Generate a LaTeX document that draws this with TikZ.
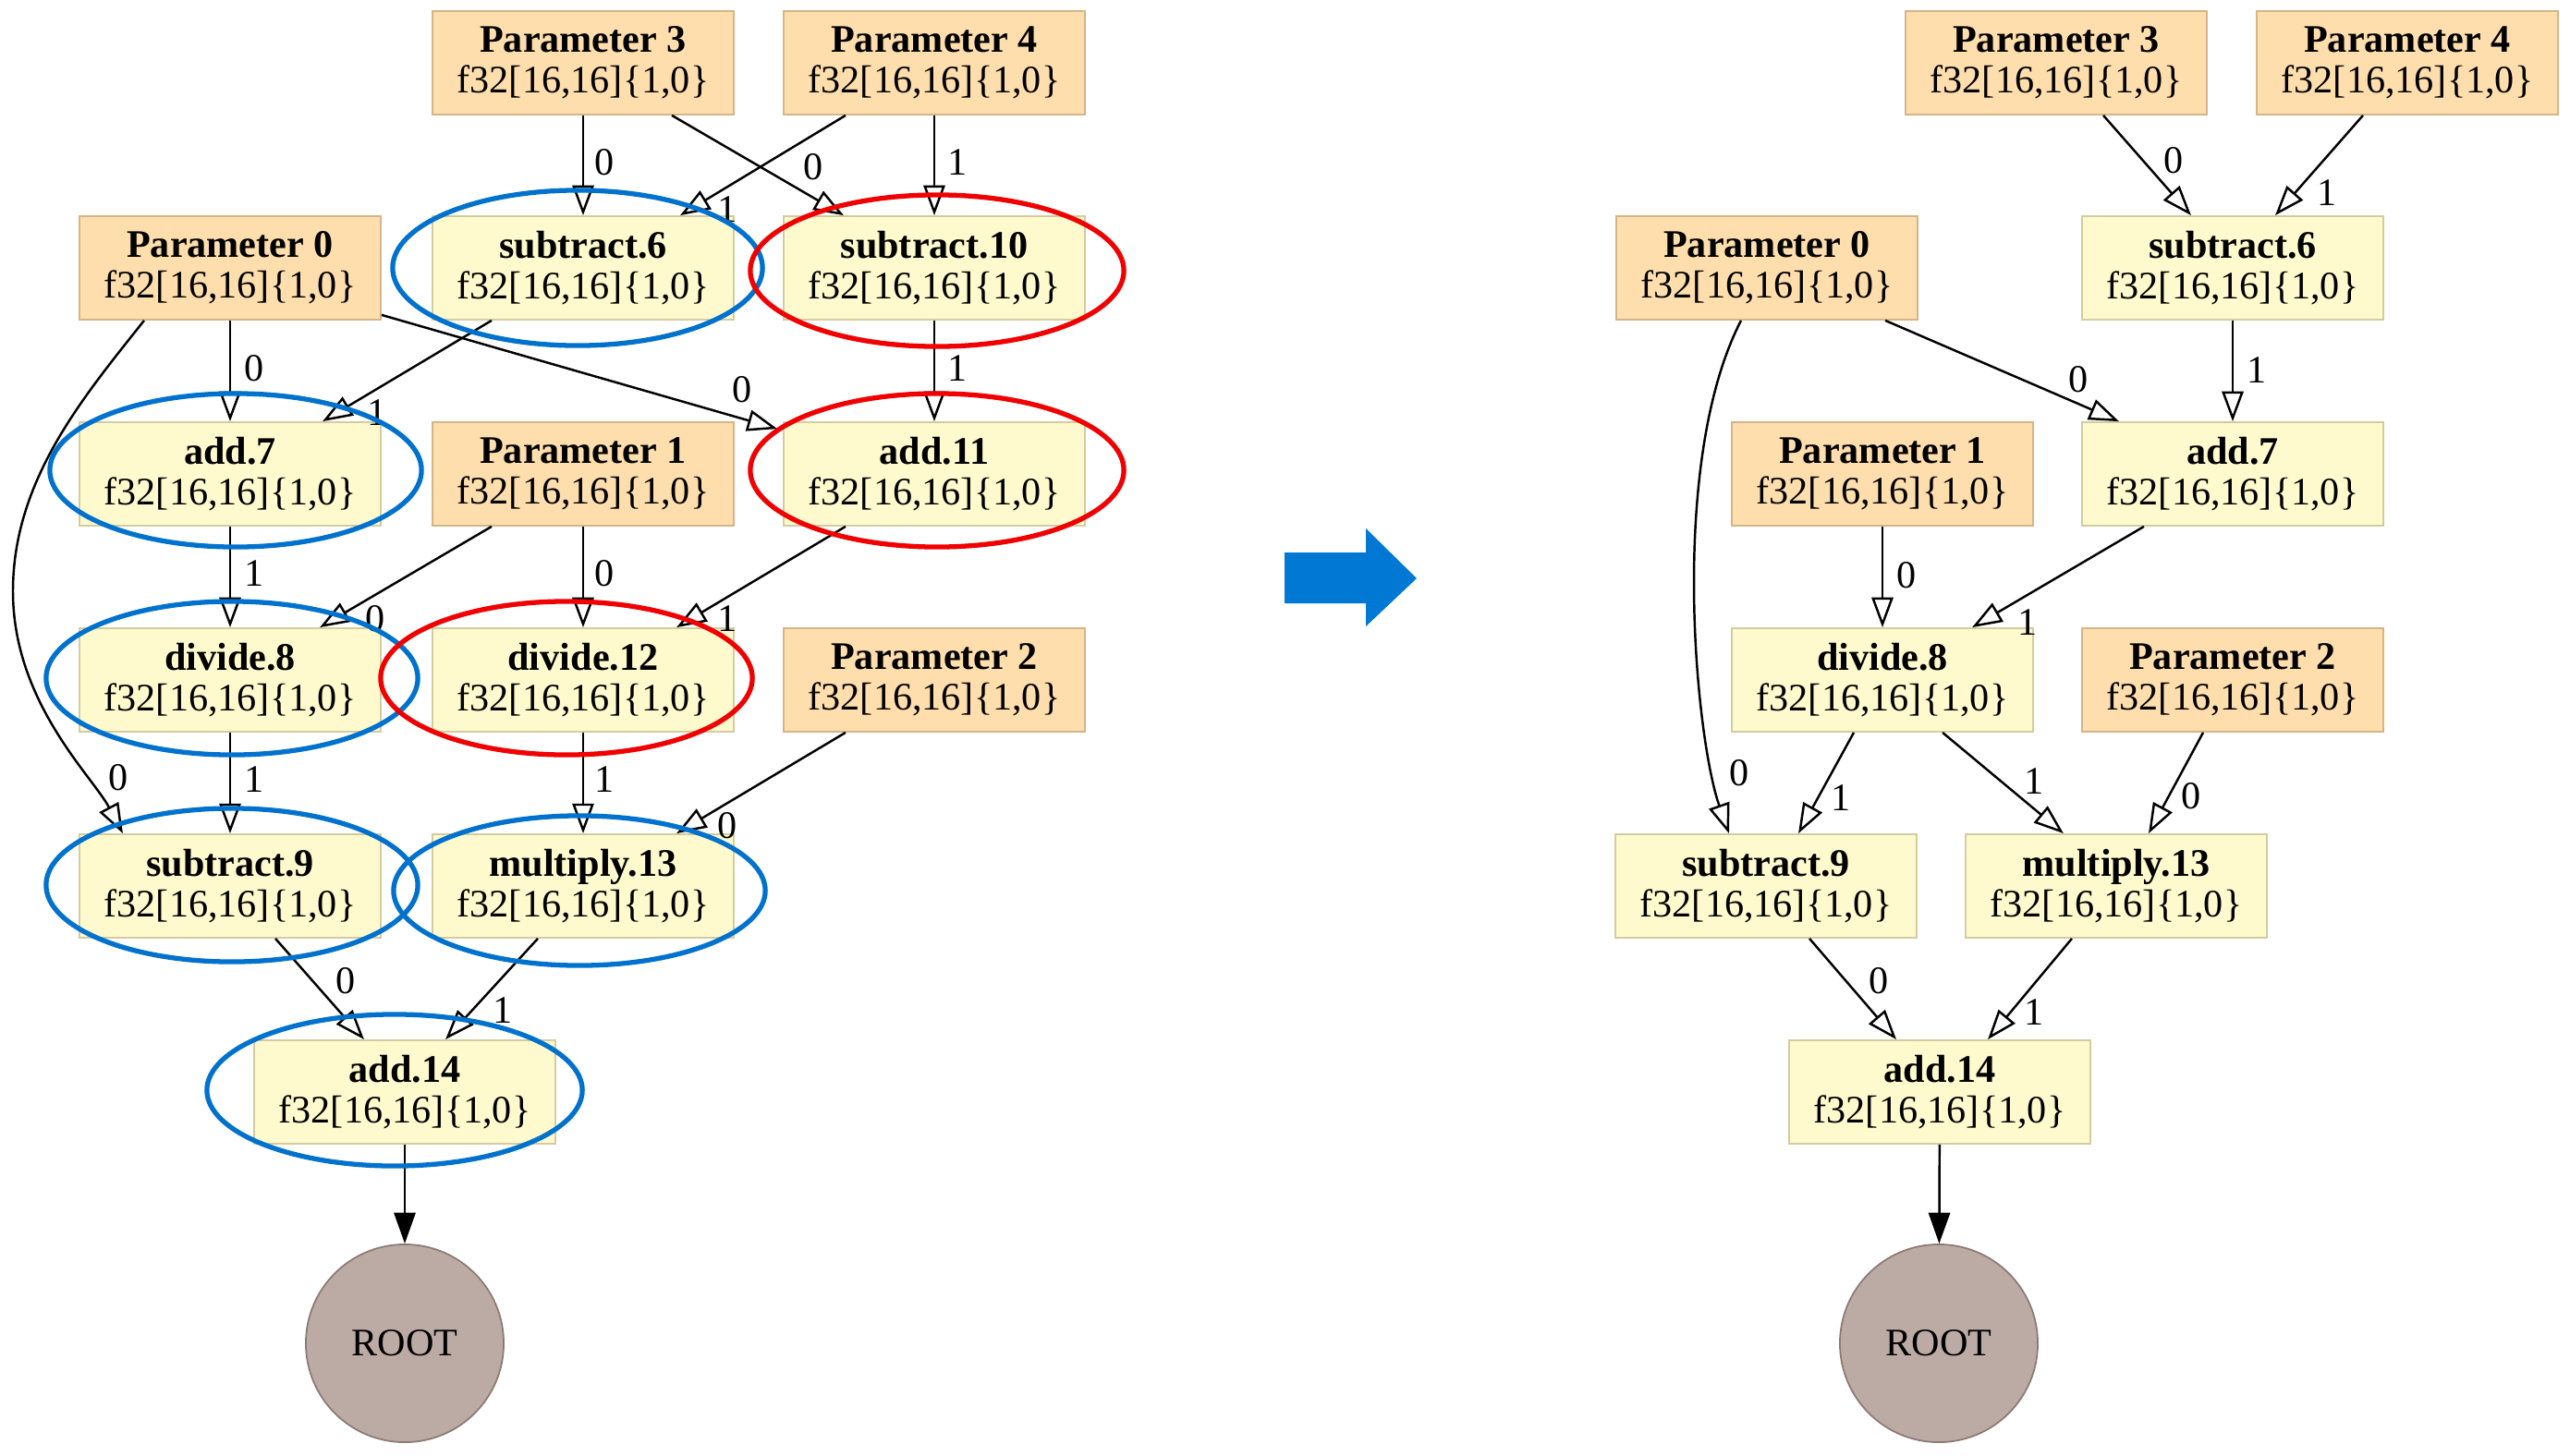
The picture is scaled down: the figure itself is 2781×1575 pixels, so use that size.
\documentclass[tikz,border=0pt]{standalone}
\usepackage{fontspec}
\setmainfont{Liberation Serif}
\usetikzlibrary{arrows.meta}
\definecolor{parfill}{RGB}{255,222,173}
\definecolor{parline}{RGB}{214,180,136}
\definecolor{opfill}{RGB}{255,250,205}
\definecolor{opline}{RGB}{210,204,160}
\definecolor{rootfill}{RGB}{188,170,164}
\definecolor{rootline}{RGB}{140,123,117}
\definecolor{hlblue}{RGB}{0,114,206}
\definecolor{hlred}{RGB}{240,0,0}
\definecolor{arrowblue}{RGB}{0,120,212}
\begin{document}
\begin{tikzpicture}[x=0.01cm,y=-0.01cm,
  base/.style={rectangle, draw, line width=0.5pt, minimum width=3.26cm, minimum height=1.12cm,
    inner sep=1pt, align=center, font=\fontsize{12}{12.5}\selectfont},
  par/.style={base, fill=parfill, draw=parline},
  op/.style={base, fill=opfill, draw=opline},
  rootnode/.style={circle, fill=rootfill, draw=rootline, line width=0.5pt, minimum size=2.14cm,
    inner sep=0pt, font=\fontsize{12}{12.5}\selectfont},
  edge/.style={line width=0.7pt, -{Triangle[open, length=9.2pt, width=6.6pt]}},
  rootedge/.style={line width=0.7pt, -{Triangle[length=9.5pt, width=6.6pt]}},
  lbl/.style={inner sep=0pt, font=\fontsize{12}{12.5}\selectfont},
  hlb/.style={draw=hlblue, line width=1.5pt},
  hlr/.style={draw=hlred, line width=1.5pt}
]
\useasboundingbox (0,0) rectangle (2781,1575);

% ---------------- left graph ----------------
\node[par] (P3L) at (631,68) {\textbf{Parameter 3}\\f32[16,16]\{1,0\}};
\node[par] (P4L) at (1011,68) {\textbf{Parameter 4}\\f32[16,16]\{1,0\}};
\node[par] (P0L) at (249,290) {\textbf{Parameter 0}\\f32[16,16]\{1,0\}};
\node[op] (s6L) at (631,290) {\textbf{subtract.6}\\f32[16,16]\{1,0\}};
\node[op] (s10L) at (1011,290) {\textbf{subtract.10}\\f32[16,16]\{1,0\}};
\node[op] (a7L) at (249,513) {\textbf{add.7}\\f32[16,16]\{1,0\}};
\node[par] (P1L) at (631,513) {\textbf{Parameter 1}\\f32[16,16]\{1,0\}};
\node[op] (a11L) at (1011,513) {\textbf{add.11}\\f32[16,16]\{1,0\}};
\node[op] (d8L) at (249,736) {\textbf{divide.8}\\f32[16,16]\{1,0\}};
\node[op] (d12L) at (631,736) {\textbf{divide.12}\\f32[16,16]\{1,0\}};
\node[par] (P2L) at (1011,736) {\textbf{Parameter 2}\\f32[16,16]\{1,0\}};
\node[op] (s9L) at (249,959) {\textbf{subtract.9}\\f32[16,16]\{1,0\}};
\node[op] (m13L) at (631,959) {\textbf{multiply.13}\\f32[16,16]\{1,0\}};
\node[op] (a14L) at (438,1182) {\textbf{add.14}\\f32[16,16]\{1,0\}};
\node[rootnode] (rootL) at (438,1454) {ROOT};

\draw[edge] (P3L) -- (s6L);
\draw[edge] ([xshift=0.96cm]P3L.south) -- ([xshift=-0.98cm]s10L.north);
\draw[edge] ([xshift=-0.96cm]P4L.south) -- ([xshift=1.05cm]s6L.north);
\draw[edge] (P4L) -- (s10L);
\draw[edge] (P0L) -- (a7L);
\draw[edge] ([xshift=-0.99cm]s6L.south) -- ([xshift=1.0cm]a7L.north);
\draw[edge] ([yshift=0.06cm]P0L.south east) -- ([shift={(-0.06cm,-0.08cm)}]a11L.north west);
\draw[edge] (s10L) -- (a11L);
\draw[edge] ([xshift=-0.93cm]P0L.south) .. controls (90,430) and (14,520) .. (14,640)
  .. controls (14,760) and (100,840) .. ([xshift=-1.16cm]s9L.north);
\draw[edge] (a7L) -- (d8L);
\draw[edge] ([xshift=-0.99cm]P1L.south) -- ([xshift=0.97cm]d8L.north);
\draw[edge] (P1L) -- (d12L);
\draw[edge] ([xshift=-0.96cm]a11L.south) -- ([xshift=1.01cm]d12L.north);
\draw[edge] (d8L) -- (s9L);
\draw[edge] (d12L) -- (m13L);
\draw[edge] ([xshift=-0.96cm]P2L.south) -- ([xshift=1.01cm]m13L.north);
\draw[edge] ([xshift=0.49cm]s9L.south) -- ([xshift=-0.44cm]a14L.north);
\draw[edge] ([xshift=-0.49cm]m13L.south) -- ([xshift=0.44cm]a14L.north);
\draw[rootedge] (a14L) -- (rootL);

\node[lbl] (lL1) at (654,176) {0};
\node[lbl] (lL2) at (880,181) {0};
\node[lbl] (lL3) at (787,227) {1};
\node[lbl] (lL4) at (1036,176) {1};
\node[lbl] (lL5) at (275,399) {0};
\node[lbl] (lL6) at (408,447) {1};
\node[lbl] (lL7) at (803,422) {0};
\node[lbl] (lL8) at (1036,399) {1};
\node[lbl] (lL9) at (128,842) {0};
\node[lbl] (lL10) at (275,621) {1};
\node[lbl] (lL11) at (406,670) {0};
\node[lbl] (lL12) at (654,621) {0};
\node[lbl] (lL13) at (787,670) {1};
\node[lbl] (lL14) at (275,844) {1};
\node[lbl] (lL15) at (654,844) {1};
\node[lbl] (lL16) at (787,894) {0};
\node[lbl] (lL17) at (374,1062) {0};
\node[lbl] (lL18) at (544,1094) {1};

% highlight ellipses
\draw[hlb] (625,290) ellipse [x radius=2.0cm, y radius=0.84cm];
\draw[hlr] (1014,293) ellipse [x radius=2.02cm, y radius=0.82cm];
\draw[hlb] (255,509) ellipse [x radius=2.01cm, y radius=0.83cm];
\draw[hlr] (1014,509) ellipse [x radius=2.02cm, y radius=0.83cm];
\draw[hlb] (251,734) ellipse [x radius=2.01cm, y radius=0.83cm];
\draw[hlr] (613,734) ellipse [x radius=2.01cm, y radius=0.83cm];
\draw[hlb] (251,958) ellipse [x radius=2.01cm, y radius=0.83cm];
\draw[hlb] (627,964) ellipse [x radius=2.01cm, y radius=0.81cm];
\draw[hlb] (427,1180) ellipse [x radius=2.03cm, y radius=0.82cm];

% ---------------- arrow ----------------
\fill[arrowblue] (1390,598) -- (1478,598) -- (1478,572) -- (1533,626) -- (1478,678)
  -- (1478,653) -- (1390,653) -- cycle;

% ---------------- right graph ----------------
\node[par] (P3R) at (2225,68) {\textbf{Parameter 3}\\f32[16,16]\{1,0\}};
\node[par] (P4R) at (2605,68) {\textbf{Parameter 4}\\f32[16,16]\{1,0\}};
\node[par] (P0R) at (1912,290) {\textbf{Parameter 0}\\f32[16,16]\{1,0\}};
\node[op] (s6R) at (2416,290) {\textbf{subtract.6}\\f32[16,16]\{1,0\}};
\node[par] (P1R) at (2037,513) {\textbf{Parameter 1}\\f32[16,16]\{1,0\}};
\node[op] (a7R) at (2416,513) {\textbf{add.7}\\f32[16,16]\{1,0\}};
\node[op] (d8R) at (2037,736) {\textbf{divide.8}\\f32[16,16]\{1,0\}};
\node[par] (P2R) at (2416,736) {\textbf{Parameter 2}\\f32[16,16]\{1,0\}};
\node[op] (s9R) at (1911,959) {\textbf{subtract.9}\\f32[16,16]\{1,0\}};
\node[op] (m13R) at (2290,959) {\textbf{multiply.13}\\f32[16,16]\{1,0\}};
\node[op] (a14R) at (2099,1182) {\textbf{add.14}\\f32[16,16]\{1,0\}};
\node[rootnode] (rootR) at (2098,1454) {ROOT};

\draw[edge] ([xshift=0.51cm]P3R.south) -- ([xshift=-0.45cm]s6R.north);
\draw[edge] ([xshift=-0.48cm]P4R.south) -- ([xshift=0.46cm]s6R.north);
\draw[edge] (s6R) -- (a7R);
\draw[edge] ([xshift=1.28cm]P0R.south) -- ([xshift=-1.23cm]a7R.north);
\draw[edge] ([xshift=-0.28cm]P0R.south) .. controls (1805,500) and (1835,800) .. ([xshift=-0.40cm]s9R.north);
\draw[edge] (P1R) -- (d8R);
\draw[edge] ([xshift=-0.96cm]a7R.south) -- ([xshift=0.97cm]d8R.north);
\draw[edge] ([xshift=-0.31cm]d8R.south) -- ([xshift=0.35cm]s9R.north);
\draw[edge] ([xshift=0.65cm]d8R.south) -- ([xshift=-0.57cm]m13R.north);
\draw[edge] ([xshift=-0.32cm]P2R.south) -- ([xshift=0.35cm]m13R.north);
\draw[edge] ([xshift=0.47cm]s9R.south) -- ([xshift=-0.47cm]a14R.north);
\draw[edge] ([xshift=-0.48cm]m13R.south) -- ([xshift=0.52cm]a14R.north);
\draw[rootedge] (a14R) -- (rootR);

\node[lbl] (lR1) at (2352,174) {0};
\node[lbl] (lR2) at (2518,209) {1};
\node[lbl] (lR3) at (2442,401) {1};
\node[lbl] (lR4) at (2249,411) {0};
\node[lbl] (lR5) at (1882,837) {0};
\node[lbl] (lR6) at (2063,623) {0};
\node[lbl] (lR7) at (2194,674) {1};
\node[lbl] (lR8) at (1992,864) {1};
\node[lbl] (lR9) at (2201,846) {1};
\node[lbl] (lR10) at (2371,862) {0};
\node[lbl] (lR11) at (2033,1062) {0};
\node[lbl] (lR12) at (2201,1096) {1};
\end{tikzpicture}
\end{document}
